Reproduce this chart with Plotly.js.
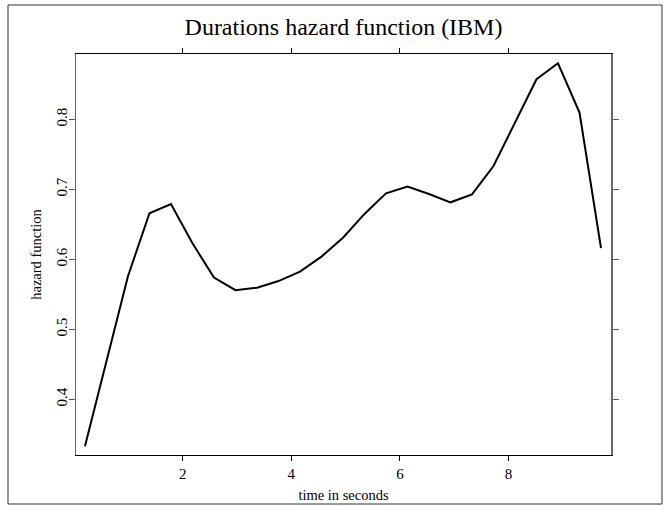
<!DOCTYPE html>
<html>
<head>
<meta charset="utf-8">
<script src="https://cdn.plot.ly/plotly-3.0.1.min.js"></script>
<style>
  html, body { margin: 0; padding: 0; background: #fff; }
  #chart { width: 668px; height: 506px; }
</style>
</head>
<body>
<div id="chart"></div>
<script>
// Time (seconds) at which the hazard function was evaluated
const timeSeconds = [0.2, 0.596, 0.992, 1.388, 1.784, 2.18, 2.576, 2.972, 3.368, 3.764,
  4.16, 4.556, 4.952, 5.348, 5.744, 6.14, 6.536, 6.932, 7.328, 7.724,
  8.12, 8.516, 8.912, 9.308, 9.704];
// Estimated hazard function values
const hazard = [0.333, 0.456, 0.576, 0.666, 0.679, 0.623, 0.574, 0.556, 0.5595, 0.569,
  0.5825, 0.604, 0.631, 0.665, 0.6945, 0.704, 0.6935, 0.6816, 0.693, 0.7335,
  0.7946, 0.8575, 0.8803, 0.81, 0.616];
const xTicks = [2, 4, 6, 8];
const yTicks = [0.4, 0.5, 0.6, 0.7, 0.8];

const serif = "'Liberation Serif', 'Times New Roman', Times, serif";

const trace = {
  x: timeSeconds,
  y: hazard,
  type: 'scatter',
  mode: 'lines',
  line: { color: '#000', width: 2 },
  hoverinfo: 'skip'
};

const layout = {
  width: 668,
  height: 506,
  margin: { l: 76, r: 57, t: 54, b: 51 },
  paper_bgcolor: '#fff',
  plot_bgcolor: '#fff',
  showlegend: false,
  font: { family: serif, color: '#000', size: 14 },
  title: {
    text: 'Durations hazard function (IBM)',
    font: { family: serif, size: 24, color: '#000' },
    x: 0.5, xref: 'paper', xanchor: 'center',
    y: 32, yref: 'container', yanchor: 'middle'
  },
  xaxis: {
    range: [0.035, 9.888],
    tickvals: xTicks,
    ticktext: xTicks.map(String),
    ticks: 'outside', ticklen: 5, tickcolor: '#000', tickwidth: 1,
    showline: true, linecolor: '#000', linewidth: 1, mirror: 'ticks',
    showgrid: false, zeroline: false,
    tickfont: { family: serif, size: 15, color: '#000' },
    title: { text: 'time in seconds', font: { family: serif, size: 14.5, color: '#000' }, standoff: 8 }
  },
  yaxis: {
    range: [0.3204, 0.8936],
    tickvals: yTicks,
    ticktext: yTicks.map(v => v.toFixed(1)),
    tickangle: -90,
    ticks: 'outside', ticklen: 6, tickcolor: '#555', tickwidth: 1,
    showline: true, linecolor: '#666', linewidth: 1.5, mirror: 'ticks',
    showgrid: false, zeroline: false,
    ticklabelstandoff: -4,
    tickfont: { family: serif, size: 15, color: '#000' },
    title: { text: 'hazard function', font: { family: serif, size: 14.5, color: '#000' }, standoff: 8 }
  },
  shapes: [{
    type: 'rect', xref: 'paper', yref: 'paper',
    x0: -0.1271, x1: 1.0953, y0: -0.1222, y1: 1.1222,
    line: { color: '#333', width: 1 }, fillcolor: 'rgba(0,0,0,0)', layer: 'below'
  }]
};

Plotly.newPlot('chart', [trace], layout, { displayModeBar: false, staticPlot: true });
</script>
</body>
</html>
